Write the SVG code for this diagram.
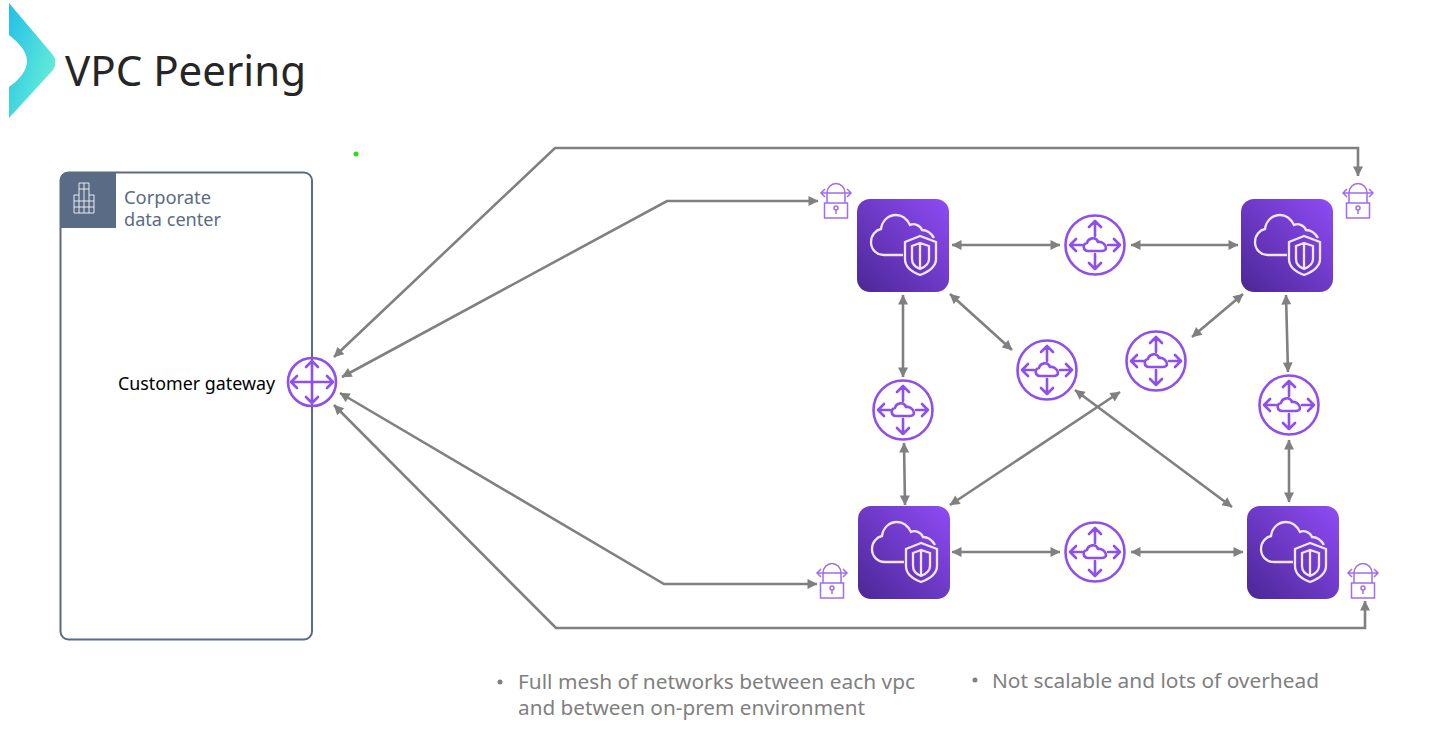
<svg xmlns="http://www.w3.org/2000/svg" xmlns:xlink="http://www.w3.org/1999/xlink" width="1442" height="742" viewBox="0 0 1442 742">
<style>
text{font-family:"Noto Sans","Open Sans","Liberation Sans",sans-serif}
.c{fill:none;stroke:#808080;stroke-width:2.600;marker-start:url(#a);marker-end:url(#a)}
.p{fill:none;stroke:#8f4fec;stroke-width:2.600;stroke-linecap:round;stroke-linejoin:round}
.t{fill:none;stroke:#a06cf0;stroke-width:1.500}
.w{fill:none;stroke:#efe6fb;stroke-width:2.300}
.b{fill:#808080;font-size:20.500px}
.h{fill:#5a6b86;font-size:17.500px}
</style>
<defs>
<marker id="a" viewBox="0 0 10 10" refX="9.500" refY="5" markerWidth="11" markerHeight="10" markerUnits="userSpaceOnUse" orient="auto-start-reverse"><path d="M0,0L10,5L0,10Z" fill="#808080"/></marker>
<linearGradient id="g" x1="0" y1="1" x2="1" y2="0"><stop offset="0" stop-color="#4b2796"/><stop offset="1" stop-color="#8f4bf5"/></linearGradient>
<linearGradient id="l" x1="0" y1="0" x2="1" y2="0.750"><stop offset="0" stop-color="#23bfe6"/><stop offset="1" stop-color="#68f0d6"/></linearGradient>
<symbol id="vpc" width="93" height="93" viewBox="0 0 93 93" overflow="visible">
<rect width="92" height="93" rx="13" fill="url(#g)"/>
<path class="w" d="M46,56H27C19,56 14,50 14,43C14,36 19,31 24,30C25,22 31,16 39,16C46,16 50,20 53,26C57,24 63,26 65,31C69,31 74,34 77,39"/>
<path class="w" d="M63,37L48,43V60C48,68 55,73 63,76C71,73 79,68 79,60V43Z"/>
<path class="w" d="M63,44L55,47V60C55,65 58,68 63,70C68,68 72,65 72,60V47ZM63,44V70"/>
</symbol>
<g id="rt">
<circle r="29.500" class="p"/>
<path class="p" d="M0,-9V-24M-6,-18L0,-24L6,-18M0,9V24M-6,18L0,24L6,18M-13,0H-25M-19,-6L-25,0L-19,6M13,0H25M19,-6L25,0L19,6"/>
<path class="p" d="M-7,6C-12,6 -13,-1 -8,-2C-7,-7 1,-9 3,-3C7,-4 11,0 11,3C11,5 9,6 7,6Z"/>
</g>
<g id="lk">
<rect x="-11.500" y="2" width="23" height="15" class="t"/>
<path class="t" d="M-9,2V-8A9,9.500 0 0 1 9,-8V2"/>
<path class="t" d="M-15,-8H15M-11,-12L-15,-8L-11,-4M11,-12L15,-8L11,-4"/>
<circle cy="7" r="2" class="t"/><path class="t" d="M0,9V13"/>
</g>
</defs>
<rect width="1442" height="742" fill="#fff"/>
<g id="header">
<path d="M9,3L53,55Q58,62 53,70L9,118V87Q27,74 27,61Q27,49 9,35Z" fill="url(#l)"/>
<text x="65" y="86" font-size="42" fill="#262626" textLength="241" lengthAdjust="spacingAndGlyphs">VPC Peering</text>
<circle cx="356" cy="154" r="2.500" fill="#2fdc1c"/>
</g>
<g id="data-center">
<rect x="60.500" y="172.500" width="251.500" height="467" rx="8" fill="#fff" stroke="#5a6b86" stroke-width="2"/>
<path d="M60,228V181Q60,172 69,172H116V228Z" fill="#5a6b86"/>
<path d="M74,213V195H79V183H89V195H94V213ZM79,195V213M84,183V213M89,195V213M74,201H94M74,207H94M79,189H89" fill="none" stroke="#e8ebf0" stroke-width="1"/>
<text class="h" x="124" y="204" textLength="87" lengthAdjust="spacingAndGlyphs">Corporate</text>
<text class="h" x="124" y="226" textLength="97" lengthAdjust="spacingAndGlyphs">data center</text>
</g>
<g id="customer-gateway">
<text x="118" y="390" font-size="17.500" fill="#000" textLength="157" lengthAdjust="spacingAndGlyphs">Customer gateway</text>
<circle cx="312" cy="382" r="24" class="p"/>
<path class="p" d="M312,361V403M306,367L312,361L318,367M306,397L312,403L318,397M291,382H333M297,376L291,382L297,388M327,376L333,382L327,388"/>
</g>
<g id="connectors">
<path class="c" d="M334,357L555,148H1358V176"/>
<path class="c" d="M342,377L667,201H818"/>
<path class="c" d="M340,393L664,584H817"/>
<path class="c" d="M334,405L556,628H1365V601"/>
<path class="c" d="M952,245H1060"/>
<path class="c" d="M1131,245H1238"/>
<path class="c" d="M903,295V377"/>
<path class="c" d="M904,443L905,505"/>
<path class="c" d="M950,294L1012,350"/>
<path class="c" d="M1243,294L1192,337"/>
<path class="c" d="M1286,295L1288,372"/>
<path class="c" d="M1289,440V502"/>
<path class="c" d="M952,552H1060"/>
<path class="c" d="M1131,552H1243"/>
<path class="c" d="M950,505L1120,392"/>
<path class="c" d="M1075,390L1232,507"/>
</g>
<use id="vpc-1" href="#vpc" x="857" y="199"/>
<use id="vpc-2" href="#vpc" x="1241" y="199"/>
<use id="vpc-3" href="#vpc" x="858" y="506"/>
<use id="vpc-4" href="#vpc" x="1247" y="506"/>
<use id="router-1" href="#rt" x="1095" y="245"/>
<use id="router-2" href="#rt" x="903" y="410"/>
<use id="router-3" href="#rt" x="1047" y="370"/>
<use id="router-4" href="#rt" x="1156" y="361"/>
<use id="router-5" href="#rt" x="1289" y="405"/>
<use id="router-6" href="#rt" x="1095" y="552"/>
<use id="lock-1" href="#lk" x="836" y="201"/>
<use id="lock-2" href="#lk" x="1358" y="201"/>
<use id="lock-3" href="#lk" x="832" y="581"/>
<use id="lock-4" href="#lk" x="1363" y="581"/>
<g id="notes">
<circle cx="500" cy="682" r="2.500" fill="#808080"/>
<text class="b" x="518" y="689" textLength="397" lengthAdjust="spacingAndGlyphs">Full mesh of networks between each vpc</text>
<text class="b" x="518" y="715" textLength="347" lengthAdjust="spacingAndGlyphs">and between on-prem environment</text>
<circle cx="975" cy="680" r="2.500" fill="#808080"/>
<text class="b" x="992" y="688" textLength="327" lengthAdjust="spacingAndGlyphs">Not scalable and lots of overhead</text>
</g>
</svg>
